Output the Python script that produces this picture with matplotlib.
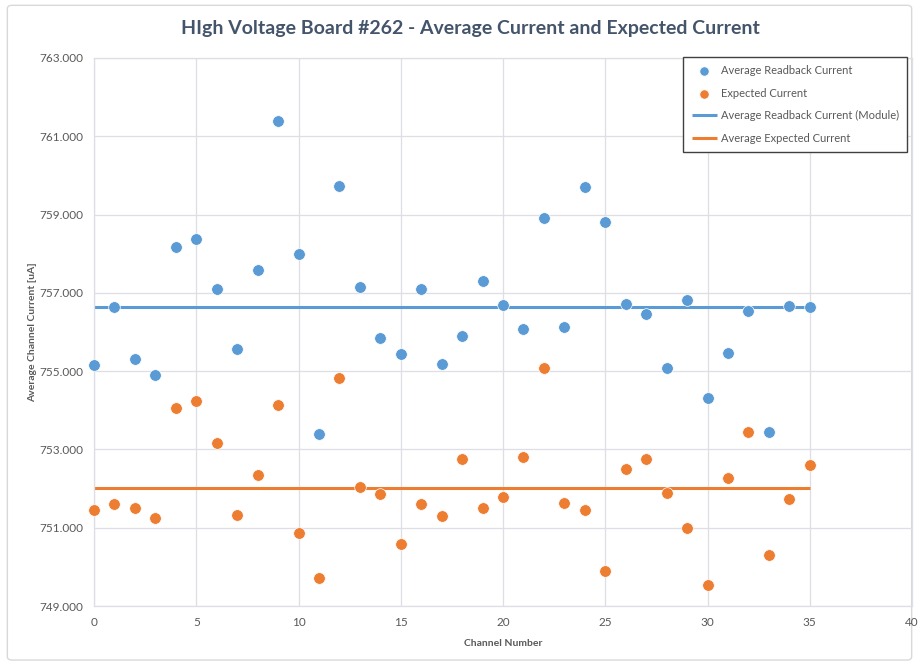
import matplotlib
matplotlib.use("Agg")
import matplotlib.pyplot as plt
from matplotlib.patches import FancyBboxPatch
import numpy as np

plt.rcParams['font.family'] = ['Lato', 'DejaVu Sans']

channels = list(range(36))
readback = [755.16, 756.65, 755.32, 754.90, 758.16, 758.37, 757.11, 755.57, 757.58, 761.38,
            757.99, 753.40, 759.72, 757.16, 755.84, 755.44, 757.09, 755.19, 755.91, 757.30,
            756.68, 756.08, 758.90, 756.14, 759.71, 758.81, 756.71, 756.46, 755.09, 756.82,
            754.32, 755.46, 756.54, 753.45, 756.67, 756.65]
expected = [751.45, 751.60, 751.51, 751.25, 754.05, 754.24, 753.17, 751.32, 752.35, 754.13,
            750.87, 749.71, 754.82, 752.05, 751.85, 750.58, 751.60, 751.30, 752.76, 751.51,
            751.79, 752.80, 755.07, 751.64, 751.45, 749.90, 752.50, 752.76, 751.89, 750.99,
            749.55, 752.27, 753.45, 750.30, 751.74, 752.61]
avg_readback = 756.65
avg_expected = 752.02

x_ticks = [0, 5, 10, 15, 20, 25, 30, 35, 40]
y_ticks = [749, 751, 753, 755, 757, 759, 761, 763]

blue = '#5B9BD5'
orange = '#ED7D31'
text_gray = '#595959'
grid_gray = '#DEDFE6'

fig = plt.figure(figsize=(9.19, 6.64), dpi=100)
fig.patches.append(FancyBboxPatch((0.008, 0.006), 0.984, 0.986,
                                  boxstyle="round,pad=0,rounding_size=0.005",
                                  transform=fig.transFigure, facecolor='white',
                                  edgecolor='#D9D9D9', linewidth=1.0, zorder=-10))

ax = fig.add_axes([0.1023, 0.0873, 0.8901, 0.8254])
ax.set_facecolor('none')

ax.plot([channels[0], channels[-1]], [avg_readback, avg_readback], color=blue, lw=2.2,
        label='Average Readback Current (Module)', zorder=2, solid_capstyle='butt')
ax.plot([channels[0], channels[-1]], [avg_expected, avg_expected], color=orange, lw=2.2,
        label='Average Expected Current', zorder=2, solid_capstyle='butt')
sc1 = ax.scatter(channels, readback, s=70, color=blue, edgecolors='white', linewidths=0.5,
                 label='Average Readback Current', zorder=3, clip_on=False)
sc2 = ax.scatter(channels, expected, s=70, color=orange, edgecolors='white', linewidths=0.5,
                 label='Expected Current', zorder=3, clip_on=False)

ax.set_xlim(0, 40)
ax.set_ylim(749, 763)
ax.set_xticks(x_ticks)
ax.set_yticks(y_ticks)
ax.set_yticklabels([f"{v:.3f}" for v in y_ticks])
ax.tick_params(axis='both', length=0, labelsize=8.5, colors=text_gray, pad=8)
ax.grid(True, color=grid_gray, linewidth=0.9)
ax.set_axisbelow(True)
for s in ax.spines.values():
    s.set_color(grid_gray)
    s.set_linewidth(0.9)

ax.set_xlabel('Channel Number', fontsize=7.5, fontweight='bold', color=text_gray, labelpad=8)
ax.set_ylabel('Average Channel Current [uA]', fontsize=7.5, fontweight='bold', color=text_gray,
              labelpad=1)

fig.text(0.512, 0.957, 'HIgh Voltage Board #262 - Average Current and Expected Current',
         ha='center', va='center', fontsize=14, fontweight='bold', color='#44546A')

handles, labels = ax.get_legend_handles_labels()
order = [2, 3, 0, 1]
leg = ax.legend([handles[i] for i in order], [labels[i] for i in order],
                loc='upper right', bbox_to_anchor=(0.9939, 1.002), borderaxespad=0,
                fontsize=8, frameon=True, fancybox=False, edgecolor='#404040', framealpha=1,
                handlelength=2.3, labelspacing=1.04, borderpad=0.75, handletextpad=0.3,
                markerscale=0.8)
leg.get_frame().set_linewidth(1.0)
for t in leg.get_texts():
    t.set_color(text_gray)

fig.savefig('out.png', dpi=100)
